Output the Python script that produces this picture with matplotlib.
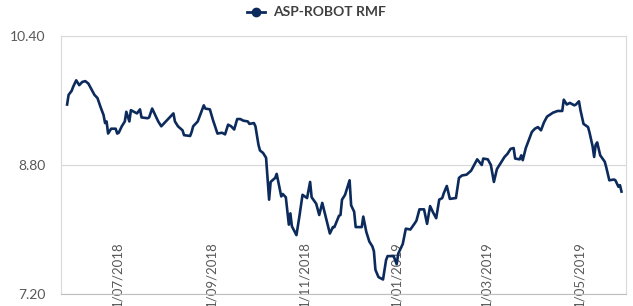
import pandas as pd
import matplotlib
matplotlib.use("Agg")
import matplotlib.pyplot as plt
from matplotlib.lines import Line2D

# Unit price of the fund.
# Days are counted from 1 July 2018.
days_from_jul_2018 = [
    -33, -32, -30, -29, -27, -25, -23, -21, -19, -17, -15, -13, -11, -9, -8, -7,
    -6, -4, -1, 0, 1, 3, 5, 6, 8, 9, 11, 13, 15, 16, 20, 21, 23, 25, 27, 29,
    31, 33, 35, 37, 38, 40, 43, 44, 48, 49, 50, 53, 54, 57, 58, 61, 63, 66,
    69, 71, 73, 75, 77, 79, 81, 83, 86, 87, 90, 91, 93, 94, 96, 98, 100, 101,
    104, 105, 108, 109, 111, 113, 114, 115, 118, 120, 122, 125, 127, 128, 131,
    133, 135, 137, 140, 142, 143, 146, 147, 148, 150, 153, 154, 156, 157, 161,
    162, 164, 166, 168, 169, 170, 172, 175, 177, 178, 182, 184, 185, 188, 190,
    193, 196, 197, 199, 202, 204, 206, 208, 210, 212, 214, 215, 217, 219, 223,
    225, 227, 230, 233, 235, 237, 240, 241, 244, 246, 248, 250, 253, 255, 257,
    259, 261, 262, 265, 266, 267, 269, 271, 273, 275, 277, 279, 281, 283, 287,
    290, 293, 294, 296, 298, 301, 302, 304, 305, 307, 310, 311, 313, 314, 315,
    316, 318, 321, 322, 324, 327, 328, 330, 331, 332,
]
price = [
    9.55, 9.67, 9.72, 9.77, 9.85, 9.79, 9.83, 9.84, 9.81, 9.74, 9.67, 9.63,
    9.52, 9.42, 9.32, 9.34, 9.19, 9.25, 9.25, 9.19, 9.20, 9.28, 9.34, 9.46,
    9.34, 9.48, 9.46, 9.44, 9.49, 9.39, 9.38, 9.39, 9.50, 9.42, 9.34, 9.28,
    9.32, 9.36, 9.40, 9.44, 9.34, 9.28, 9.23, 9.17, 9.16, 9.21, 9.28, 9.34,
    9.39, 9.54, 9.50, 9.49, 9.36, 9.19, 9.20, 9.18, 9.30, 9.28, 9.24, 9.37,
    9.37, 9.35, 9.34, 9.31, 9.32, 9.28, 9.05, 8.98, 8.95, 8.89, 8.37, 8.59,
    8.64, 8.69, 8.41, 8.44, 8.40, 8.06, 8.20, 8.04, 7.93, 8.17, 8.43, 8.39,
    8.59, 8.40, 8.32, 8.18, 8.33, 8.18, 7.95, 8.03, 8.03, 8.17, 8.18, 8.37,
    8.43, 8.61, 8.30, 8.22, 8.03, 8.03, 8.16, 7.97, 7.85, 7.79, 7.73, 7.50,
    7.41, 7.38, 7.62, 7.67, 7.67, 7.57, 7.70, 7.82, 8.01, 8.00, 8.08, 8.11,
    8.25, 8.25, 8.07, 8.29, 8.21, 8.14, 8.37, 8.39, 8.45, 8.54, 8.38, 8.39,
    8.64, 8.67, 8.68, 8.73, 8.80, 8.87, 8.80, 8.88, 8.87, 8.80, 8.59, 8.75,
    8.84, 8.90, 8.94, 9.00, 9.01, 8.88, 8.87, 8.92, 8.86, 9.01, 9.11, 9.21,
    9.25, 9.27, 9.23, 9.33, 9.40, 9.45, 9.47, 9.47, 9.61, 9.55, 9.57, 9.54,
    9.55, 9.59, 9.48, 9.31, 9.27, 9.20, 9.03, 8.90, 9.05, 9.08, 8.92, 8.84,
    8.77, 8.61, 8.62, 8.61, 8.53, 8.55, 8.47,
]

tick_dates = ["2018-07-01", "2018-09-01", "2018-11-01",
              "2019-01-01", "2019-03-01", "2019-05-01"]
tick_labels = ["1/07/2018", "1/09/2018", "1/11/2018",
               "1/01/2019", "1/03/2019", "1/05/2019"]
y_ticks = [7.20, 8.80, 10.40]
series_name = "ASP-ROBOT RMF"

LINE_COLOR = "#0c2b5c"
GRID_COLOR = "#d9d9d9"
TEXT_COLOR = "#595959"

plt.rcParams["font.family"] = ["Lato", "DejaVu Sans"]

dates = pd.Timestamp("2018-07-01") + pd.to_timedelta(days_from_jul_2018, unit="D")

fig = plt.figure(figsize=(6.33, 3.06), dpi=100)
ax = fig.add_axes([0.0964, 0.0392, 0.8926, 0.8432])

ax.plot(dates, price, color=LINE_COLOR, linewidth=1.9, solid_joinstyle="round")

# y axis
ax.set_ylim(7.20, 10.40)
ax.set_yticks(y_ticks)
ax.set_yticklabels([f"{v:.2f}" for v in y_ticks])
ax.yaxis.grid(True, color=GRID_COLOR, linewidth=0.9)
ax.tick_params(axis="y", length=0, pad=11, labelsize=10, labelcolor=TEXT_COLOR)

# x axis: date labels sit inside the plot, rotated
ax.set_xlim(pd.Timestamp("2018-05-25"), pd.Timestamp("2019-06-01"))
ax.set_xticks(pd.to_datetime(tick_dates))
ax.set_xticklabels(tick_labels, rotation=90)
ax.tick_params(axis="x", length=0, pad=-38, labelsize=9.5, labelcolor=TEXT_COLOR)

for side in ["left", "right", "top"]:
    ax.spines[side].set_color(GRID_COLOR)
ax.spines["bottom"].set_color("#bfbfbf")

# legend
handle = Line2D([], [], color=LINE_COLOR, linewidth=2, marker="o", markersize=6)
fig.legend([handle], [series_name], loc="upper center",
           bbox_to_anchor=(0.5, 1.02), frameon=False, handlelength=1.3,
           handletextpad=0.6, prop={"weight": "bold", "size": 10},
           labelcolor="#404040")

fig.savefig("out.png", dpi=100)
